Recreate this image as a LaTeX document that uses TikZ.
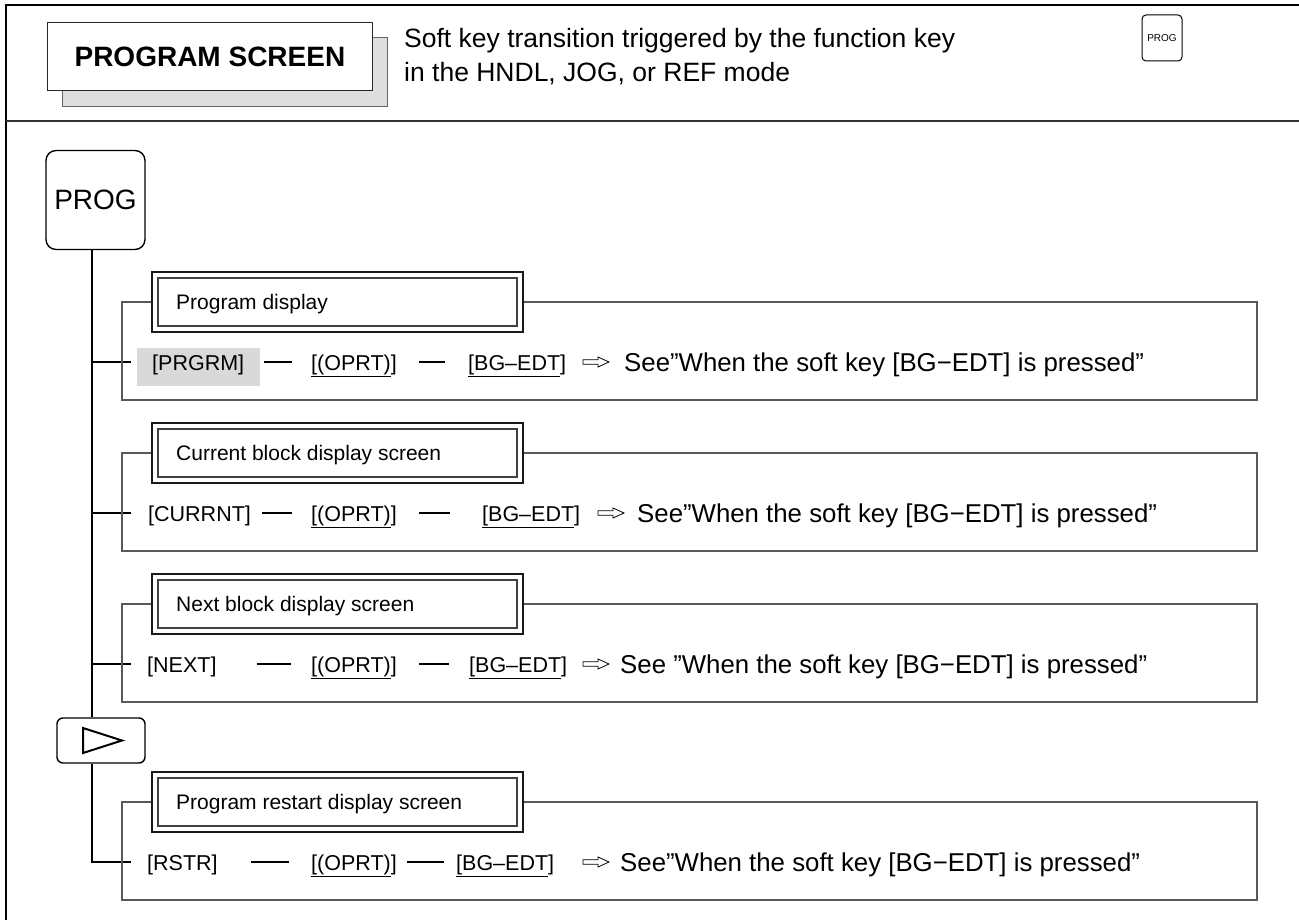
\documentclass[tikz,border=0pt]{standalone}
\usepackage{fontspec}
\setmainfont{Liberation Sans}
\usetikzlibrary{backgrounds}
\begin{document}
\begin{tikzpicture}[x=1pt,y=-1pt,
 every node/.style={inner sep=0pt},
 outerline/.style={line width=2.6pt, black},
 sepline/.style={line width=1.4pt, black!80},
 titlebox/.style={draw=black!85, line width=0.9pt, fill=white, minimum width=325pt, minimum height=68pt, font=\bfseries\fontsize{28}{32}\selectfont},
 shadowbox/.style={draw=black!60, line width=0.9pt, fill=black!13},
 desc/.style={anchor=base west, font=\fontsize{26.5}{30}\selectfont},
 keybox/.style={draw, line width=1.4pt, rounded corners=10pt},
 trunkline/.style={line width=1.5pt},
 branchline/.style={line width=1.2pt},
 dblbox/.style={draw=black!90, line width=2pt, fill=white, minimum width=371pt, minimum height=60pt},
 innerbox/.style={draw=black!75, line width=1.3pt},
 frameline/.style={draw=black!65, line width=1.3pt},
 boxlabel/.style={anchor=base west, font=\fontsize{21}{24}\selectfont},
 rowtxt/.style={anchor=west, text height=22pt, text depth=6pt, font=\fontsize{21.5}{24}\selectfont},
 dashline/.style={line width=1.4pt},
 seetxt/.style={anchor=west, text height=24pt, text depth=6pt, font=\fontsize{25.8}{28}\selectfont},
 hl/.style={fill=black!15},
 harrow/.pic={\draw[line width=0.8pt, line join=miter] (0,-2.2) -- (15,-2.2) -- (15,-5) -- (26,0) -- (15,5) -- (15,2.2) -- (0,2.2) -- cycle;},
]
\useasboundingbox (0,0) rectangle (1299,920);
% frame
\draw[outerline] (6,920) -- (6,5) -- (1299,5);
\draw[sepline] (6,121) -- (1299,121);
% title
\node[shadowbox, minimum width=325pt, minimum height=69pt, anchor=north west] (tshadow) at (62,37) {};
\node[titlebox, anchor=north west] (title) at (47,22) {PROGRAM SCREEN};
\node[desc] (d1) at (404,48) {Soft key transition triggered by the function key};
\node[desc] (d2) at (404,82) {in the HNDL, JOG, or REF mode};
\node[draw, line width=1pt, rounded corners=4pt, minimum width=40pt, minimum height=46pt, font=\fontsize{10}{12}\selectfont] (fkey) at (1162,38) {PROG};
% keys and trunk
\coordinate (tx) at (92,0);
\node[keybox, minimum width=99pt, minimum height=99pt, font=\fontsize{28}{30}\selectfont] (prog) at (95.5,200) {PROG};
\node[keybox, rounded corners=6pt, minimum width=88pt, minimum height=45pt] (nxt) at (101,740.5) {};
\draw[line width=2pt, line join=miter] (83,728) -- (122,740.5) -- (83,753) -- cycle;
\coordinate (r1) at (0,362); \coordinate (b1) at (131,362);
\coordinate (r2) at (0,513); \coordinate (b2) at (131,513);
\coordinate (r3) at (0,664); \coordinate (b3) at (131,664);
\coordinate (r4) at (0,862); \coordinate (b4) at (131,862);
\draw[trunkline] (prog.south -| tx) -- (nxt.north -| tx);
\draw[trunkline] (nxt.south -| tx) -- (tx |- r4) -- (b4);
\draw[branchline] (tx |- r1) -- (b1);
\draw[branchline] (tx |- r2) -- (b2);
\draw[branchline] (tx |- r3) -- (b3);
% group 1
\node[dblbox] (g1) at (337.5,302) {};
\draw[innerbox] ([shift={(7,7)}]g1.north west) rectangle ([shift={(-7,-7)}]g1.south east);
\node[boxlabel] (g1l) at (176,309.5) {Program display};
\draw[frameline] (g1.west) -- (122,302) -- (122,400) -- (1257,400) -- (1257,302) -- (g1.east);
\node[rowtxt] (k1a) at (152,362) {[PRGRM]};
\begin{scope}[on background layer]
\fill[hl] ([xshift=-15pt, yshift=14pt]k1a.west) rectangle ([xshift=16pt,yshift=-24pt]k1a.east);
\end{scope}
\node[rowtxt] (k1b) at (311,362) {\underline{[(OPRT)}]};
\node[rowtxt] (k1c) at (468,362) {\underline{[BG–EDT}]};
\draw[dashline] ([xshift=20pt]k1a.east) -- ([xshift=-19pt]k1b.west);
\draw[dashline] ([xshift=22pt]k1b.east) -- ([xshift=-23pt]k1c.west);
\pic at (583,362) {harrow};
\node[seetxt] (s1) at (624,362) {See”When the soft key [BG−EDT] is pressed”};
% group 2
\node[dblbox] (g2) at (337.5,453) {};
\draw[innerbox] ([shift={(7,7)}]g2.north west) rectangle ([shift={(-7,-7)}]g2.south east);
\node[boxlabel] (g2l) at (176,460.5) {Current block display screen};
\draw[frameline] (g2.west) -- (122,453) -- (122,551) -- (1257,551) -- (1257,453) -- (g2.east);
\node[rowtxt] (k2a) at (148,513) {[CURRNT]};
\node[rowtxt] (k2b) at (311,513) {\underline{[(OPRT)}]};
\node[rowtxt] (k2c) at (482,513) {\underline{[BG–EDT}]};
\draw[dashline] ([xshift=11pt]k2a.east) -- ([xshift=-19pt]k2b.west);
\draw[dashline] ([xshift=22pt]k2b.east) -- ([xshift=-32pt]k2c.west);
\pic at (598,513) {harrow};
\node[seetxt] (s2) at (637,513) {See”When the soft key [BG−EDT] is pressed”};
% group 3
\node[dblbox] (g3) at (337.5,604) {};
\draw[innerbox] ([shift={(7,7)}]g3.north west) rectangle ([shift={(-7,-7)}]g3.south east);
\node[boxlabel] (g3l) at (176,611.5) {Next block display screen};
\draw[frameline] (g3.west) -- (122,604) -- (122,702) -- (1257,702) -- (1257,604) -- (g3.east);
\node[rowtxt] (k3a) at (147,664) {[NEXT]};
\node[rowtxt] (k3b) at (311,664) {\underline{[(OPRT)}]};
\node[rowtxt] (k3c) at (469,664) {\underline{[BG–EDT}]};
\draw[dashline] ([xshift=40pt]k3a.east) -- ([xshift=-20pt]k3b.west);
\draw[dashline] ([xshift=22pt]k3b.east) -- ([xshift=-20pt]k3c.west);
\pic at (583,664) {harrow};
\node[seetxt] (s3) at (620,664) {See ”When the soft key [BG−EDT] is pressed”};
% group 4
\node[dblbox] (g4) at (337.5,802) {};
\draw[innerbox] ([shift={(7,7)}]g4.north west) rectangle ([shift={(-7,-7)}]g4.south east);
\node[boxlabel] (g4l) at (176,809.5) {Program restart display screen};
\draw[frameline] (g4.west) -- (122,802) -- (122,900) -- (1257,900) -- (1257,802) -- (g4.east);
\node[rowtxt] (k4a) at (147,862) {[RSTR]};
\node[rowtxt] (k4b) at (311,862) {\underline{[(OPRT)}]};
\node[rowtxt] (k4c) at (456,862) {\underline{[BG–EDT}]};
\draw[dashline] ([xshift=33pt]k4a.east) -- ([xshift=-22pt]k4b.west);
\draw[dashline] ([xshift=10pt]k4b.east) -- ([xshift=-12pt]k4c.west);
\pic at (583,862) {harrow};
\node[seetxt] (s4) at (620,862) {See”When the soft key [BG−EDT] is pressed”};
\end{tikzpicture}
\end{document}
